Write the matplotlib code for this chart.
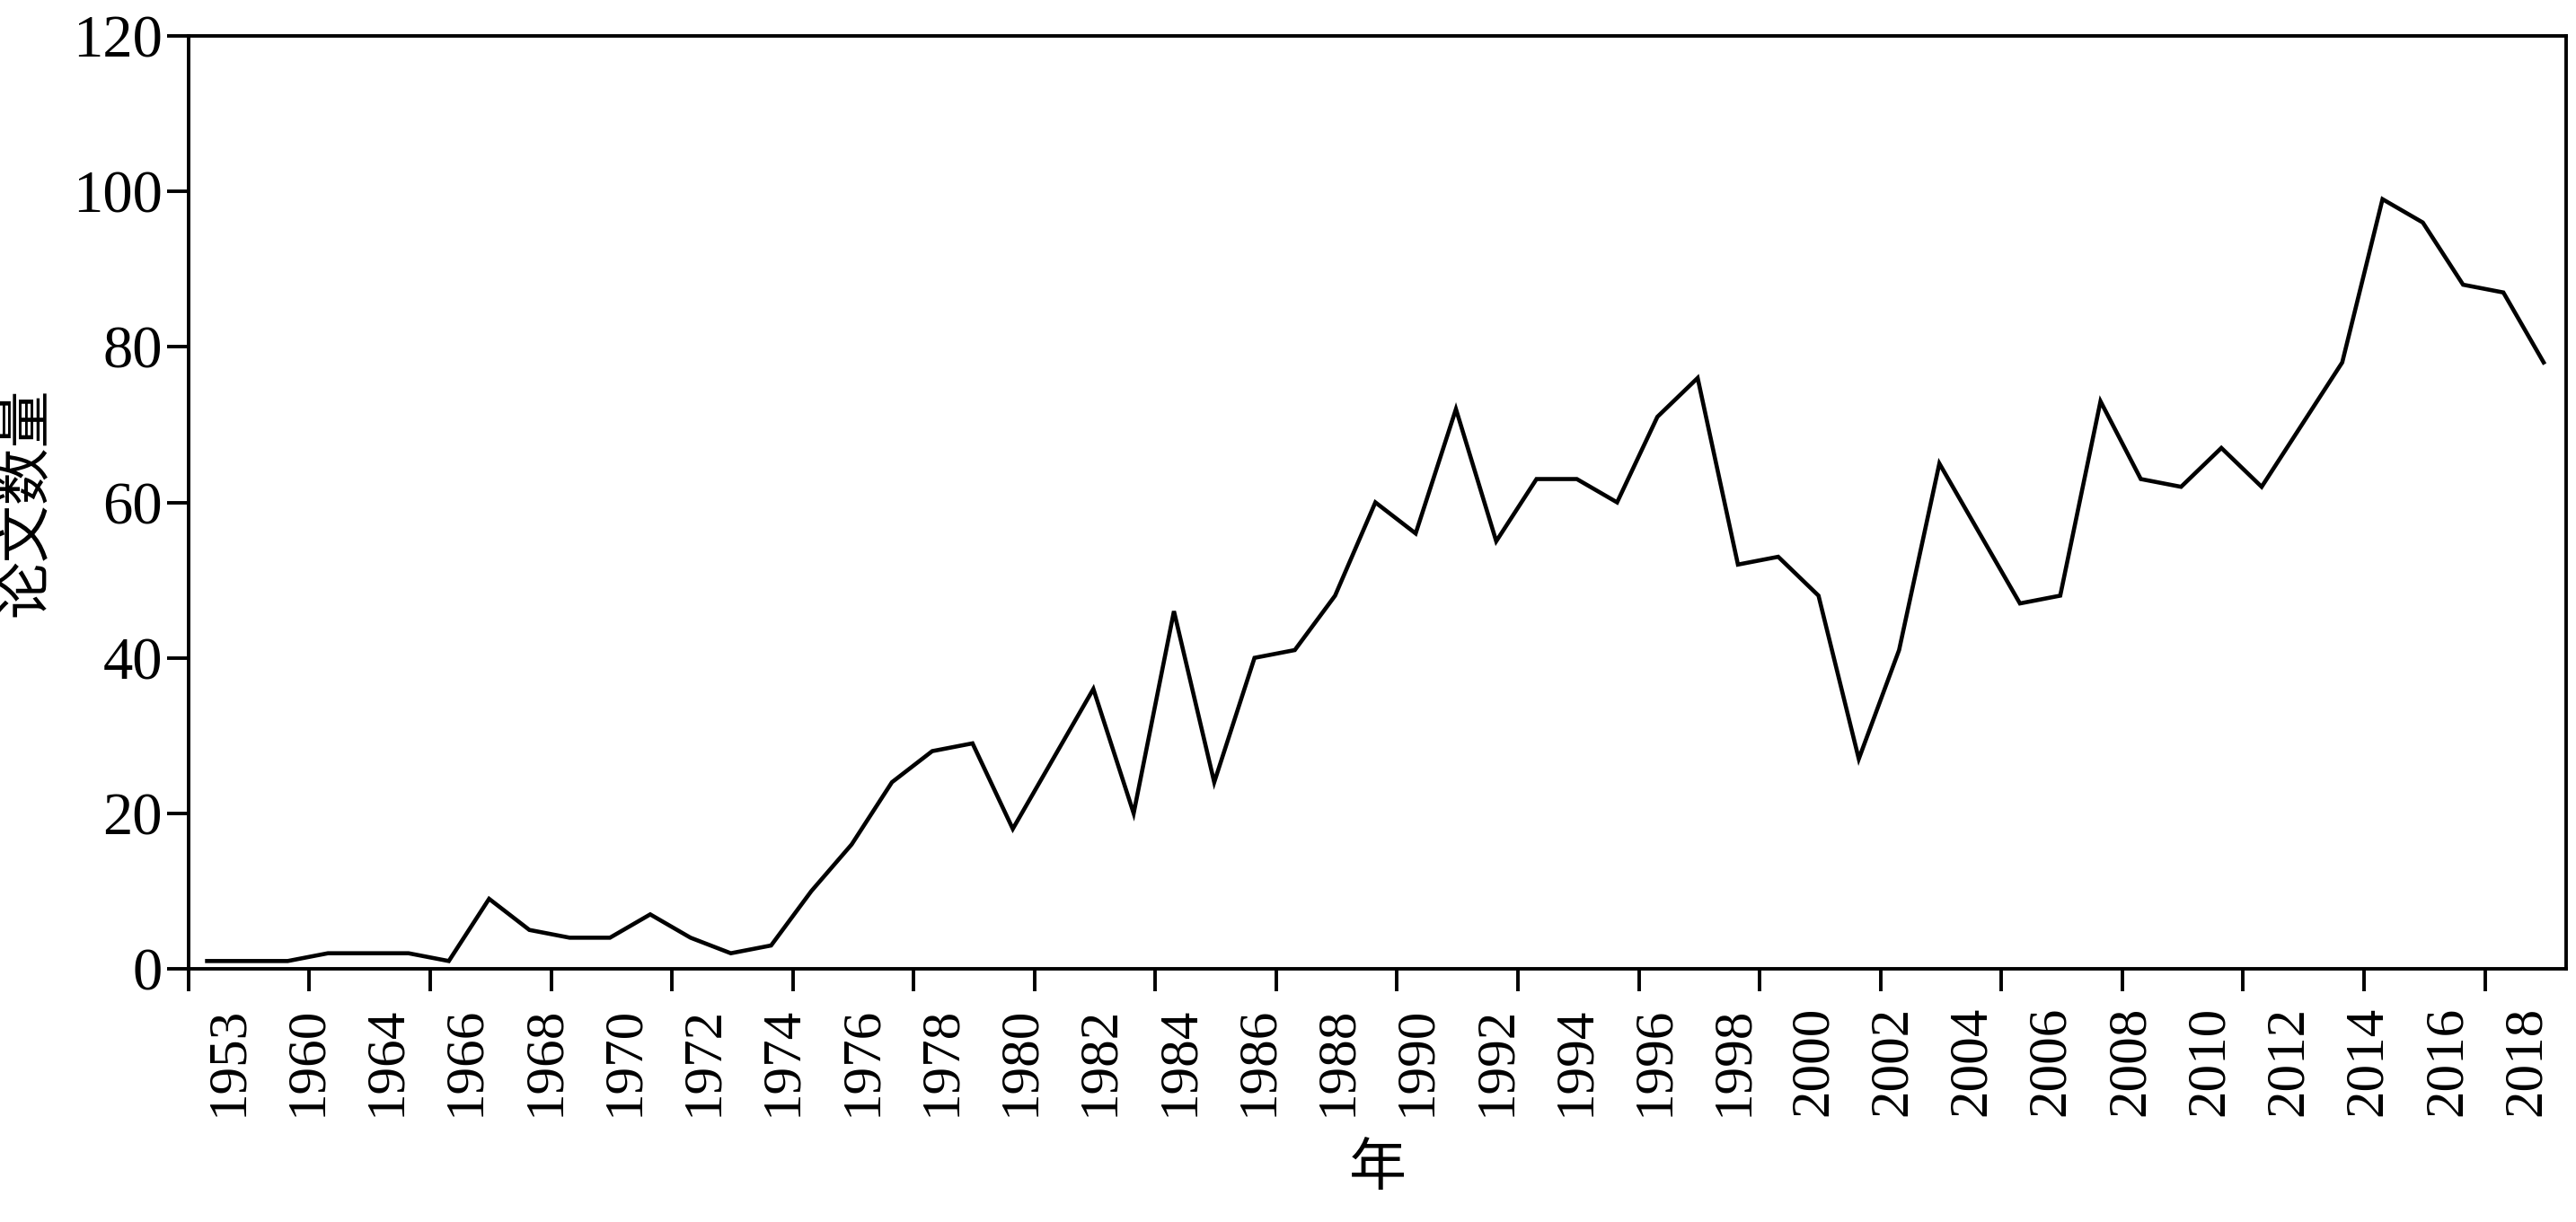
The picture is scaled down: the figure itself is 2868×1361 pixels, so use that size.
import matplotlib
matplotlib.use("Agg")
import matplotlib.pyplot as plt
import numpy as np

# 论文数量 (59 个点)
papers = [1, 1, 1, 2, 2, 2, 1, 9, 5, 4, 4, 7, 4, 2, 3, 10, 16, 24, 28, 29,
          18, 27, 36, 20, 46, 24, 40, 41, 48, 60, 56, 72, 55, 63, 63, 60, 71, 76, 52, 53,
          48, 27, 41, 65, 56, 47, 48, 73, 63, 62, 67, 62, 70, 78, 99, 96, 88, 87, 78]

year_labels = ["1953", "1960", "1964"] + [str(y) for y in range(1966, 2019, 2)]

y_ticks = [0, 20, 40, 60, 80, 100, 120]

plt.rcParams['font.family'] = ['Liberation Serif', 'Noto Sans CJK SC']
plt.rcParams['axes.linewidth'] = 2.8

fig = plt.figure(figsize=(28.68, 13.61), dpi=100)
ax = fig.add_axes([0.0732, 0.2072, 0.9230, 0.7634])

x = np.arange(len(papers))
ax.plot(x, papers, color="black", linewidth=3.3, solid_joinstyle="miter")

x0, x1 = -0.46, len(papers) - 1 + 0.56
ax.set_xlim(x0, x1)
ax.set_ylim(0, 120)

# 主刻度每 3 个点一个，不带标签
ax.set_xticks(x0 + 3 * np.arange(20))
ax.set_xticklabels([])
# 年份标签均匀分布在整个轴上
n = len(year_labels)
lab_pos = x0 + (np.arange(n) + 0.5) * (x1 - x0) / n
ax.set_xticks(lab_pos, minor=True)
ax.set_xticklabels(year_labels, minor=True, rotation=90, fontsize=44)
ax.tick_params(axis='x', which='minor', length=0, pad=30)
ax.tick_params(axis='x', which='major', length=18, width=2.8, direction='out')

ax.set_yticks(y_ticks)
ax.set_yticklabels([str(v) for v in y_ticks], fontsize=48)
ax.tick_params(axis='y', length=17, width=2.8, direction='out', pad=4)

ax.set_ylabel("论文数量", fontsize=46, family=['Noto Sans CJK SC'], labelpad=14)
ax.set_xlabel("年", fontsize=46, family=['Noto Sans CJK SC'], labelpad=18)

fig.savefig("out.png", dpi=100)
